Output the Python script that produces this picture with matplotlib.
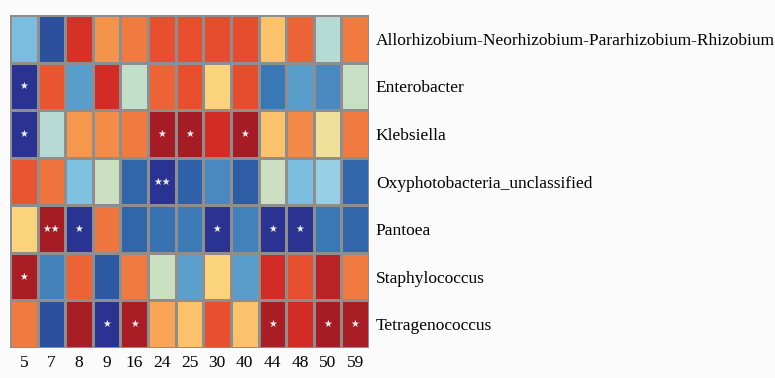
import matplotlib.pyplot as plt
import numpy as np
from matplotlib.colors import LinearSegmentedColormap

samples = ["5", "7", "8", "9", "16", "24", "25", "30", "40", "44", "48", "50", "59"]
genera = [
    "Allorhizobium-Neorhizobium-Pararhizobium-Rhizobium",
    "Enterobacter",
    "Klebsiella",
    "Oxyphotobacteria_unclassified",
    "Pantoea",
    "Staphylococcus",
    "Tetragenococcus",
]

# correlation values, one row per genus
allorhizobium = [-0.42, -0.87, 0.78, 0.42, 0.50, 0.65, 0.65, 0.66, 0.66, 0.25, 0.58, -0.17, 0.50]
enterobacter = [-0.98, 0.63, -0.55, 0.80, -0.12, 0.58, 0.65, 0.18, 0.66, -0.70, -0.55, -0.63, -0.10]
klebsiella = [-0.98, -0.17, 0.40, 0.44, 0.50, 0.95, 0.95, 0.80, 0.95, 0.25, 0.45, 0.05, 0.50]
oxyphoto = [0.63, 0.53, -0.40, -0.08, -0.78, -0.98, -0.80, -0.63, -0.82, -0.08, -0.42, -0.30, -0.78]
pantoea = [0.18, 0.95, -0.98, 0.52, -0.78, -0.72, -0.68, -0.98, -0.66, -0.98, -0.98, -0.70, -0.78]
staphylococcus = [0.93, -0.66, 0.58, -0.83, 0.50, -0.08, -0.54, 0.18, -0.55, 0.80, 0.65, 0.88, 0.50]
tetragenococcus = [0.50, -0.87, 0.93, -0.98, 0.93, 0.35, 0.25, 0.65, 0.25, 0.93, 0.80, 0.95, 0.93]

# significance marks (number of stars)
stars = [
    [0, 0, 0, 0, 0, 0, 0, 0, 0, 0, 0, 0, 0],
    [1, 0, 0, 0, 0, 0, 0, 0, 0, 0, 0, 0, 0],
    [1, 0, 0, 0, 0, 1, 1, 0, 1, 0, 0, 0, 0],
    [0, 0, 0, 0, 0, 2, 0, 0, 0, 0, 0, 0, 0],
    [0, 2, 1, 0, 0, 0, 0, 1, 0, 1, 1, 0, 0],
    [1, 0, 0, 0, 0, 0, 0, 0, 0, 0, 0, 0, 0],
    [0, 0, 0, 1, 1, 0, 0, 0, 0, 1, 0, 1, 1],
]

values = np.array([allorhizobium, enterobacter, klebsiella, oxyphoto,
                   pantoea, staphylococcus, tetragenococcus])

cmap = LinearSegmentedColormap.from_list("corr", [
    (0.000, "#2a2f8f"),
    (0.075, "#2c56a1"),
    (0.150, "#3a78b5"),
    (0.225, "#5a9ecb"),
    (0.300, "#80c2e2"),
    (0.375, "#a3d6e6"),
    (0.450, "#c6e0c6"),
    (0.525, "#f0df98"),
    (0.600, "#fdd27a"),
    (0.675, "#f8a655"),
    (0.750, "#f07c40"),
    (0.825, "#e8502f"),
    (0.900, "#d42b26"),
    (1.000, "#961725"),
])

fig = plt.figure(figsize=(7.75, 3.78), dpi=100, facecolor="#fbfbfb")
ax = fig.add_axes([10 / 775, 1 - 348 / 378, 359 / 775, 333 / 378])
ax.pcolormesh(values, cmap=cmap, vmin=-1, vmax=1,
              edgecolors="#8e8e8e", linewidth=1.0)
ax.set_xlim(0, len(samples))
ax.set_ylim(len(genera), 0)

for i in range(len(genera)):
    for j in range(len(samples)):
        if stars[i][j]:
            ax.text(j + 0.5, i + 0.5, "\u2605" * stars[i][j],
                    color="#f2f2f6", ha="center", va="center",
                    fontsize=7, family="DejaVu Sans")

ax.set_xticks(np.arange(len(samples)) + 0.5)
ax.set_xticklabels(samples, family="Liberation Serif", fontsize=12.5)
ax.yaxis.tick_right()
ax.set_yticks(np.arange(len(genera)) + 0.5)
ax.set_yticklabels(genera, family="Liberation Serif", fontsize=12.5)
ax.tick_params(length=0, pad=5)
for s in ax.spines.values():
    s.set_visible(False)

fig.savefig("out.png", dpi=100, facecolor=fig.get_facecolor())
